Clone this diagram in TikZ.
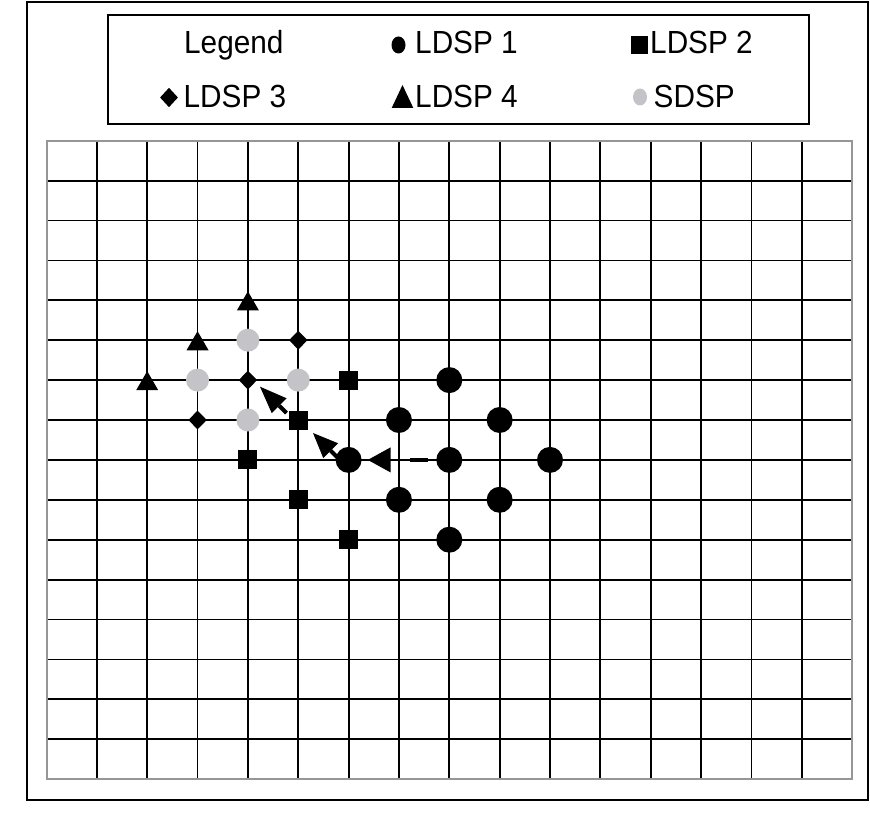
\documentclass[tikz,border=0pt]{standalone}
\usepackage{fontspec}
\usepackage{graphicx}
\setmainfont{Liberation Sans}
\usetikzlibrary{arrows.meta,shapes.geometric}
\definecolor{sdspgray}{RGB}{195,195,200}
\definecolor{gridgray}{RGB}{150,150,150}
\newcommand{\legtext}[1]{\scalebox{0.93}[1]{#1}}
\begin{document}
\begin{tikzpicture}[x=1pt,y=-1pt,
  frame/.style={draw=black,line width=2pt},
  gridline/.style={draw=black,line width=1.8pt},
  ldspone/.style={circle,fill=black,inner sep=0pt,minimum size=26pt},
  ldsptwo/.style={rectangle,fill=black,inner sep=0pt,minimum size=19pt},
  ldspthree/.style={diamond,fill=black,inner sep=0pt,minimum width=18.5pt,minimum height=19pt},
  ldspfour/.style={regular polygon,regular polygon sides=3,fill=black,inner sep=0pt,minimum size=25.4pt,yshift=-3.7pt},
  sdsp/.style={circle,fill=sdspgray,inner sep=0pt,minimum size=23pt},
  lbl/.style={font=\fontsize{32}{34}\selectfont,inner sep=0pt,anchor=base west},
  arrowline/.style={draw=black,line width=4pt}
]
\useasboundingbox (0,0) rectangle (870,824);
% outer frame and legend box
\draw[frame] (27,2) rectangle (868,800);
\node[frame,draw,minimum width=701pt,minimum height=109pt,inner sep=0pt,anchor=north west] (legendbox) at (107,14) {};
% legend content
\node[lbl] (tlegend) at (184,53.3) {\legtext{Legend}};
\node[ellipse,fill=black,inner sep=0pt,minimum width=14pt,minimum height=17pt] (mone) at (398.5,45) {};
\node[lbl] (tone) at (415,53.3) {\legtext{LDSP 1}};
\node[rectangle,fill=black,inner sep=0pt,minimum width=17pt,minimum height=18pt] (mtwo) at (639.5,45) {};
\node[lbl] (ttwo) at (650,53.3) {\legtext{LDSP 2}};
\node[diamond,fill=black,inner sep=0pt,minimum width=18pt,minimum height=19.5pt] (mthree) at (169,97.5) {};
\node[lbl] (tthree) at (183.5,108) {\legtext{LDSP 3}};
\fill[black] (391.7,108) -- (413.3,108) -- (402.5,85) -- cycle;
\node[lbl] (tfour) at (415,108) {\legtext{LDSP 4}};
\node[ellipse,fill=sdspgray,inner sep=0pt,minimum width=14pt,minimum height=17pt] (msdsp) at (640,97) {};
\node[lbl] (tsdsp) at (653.5,108) {\legtext{SDSP}};
% grid
\begin{scope}[xshift=46.5pt,yshift=-140.7pt,x=50.35pt,y=-39.9pt]
  \foreach \i in {1,...,15} {
    \draw[gridline] (\i,0) -- (\i,16);
    \draw[gridline] (0,\i) -- (16,\i);
  }
  \draw[draw=gridgray,line width=2pt] (0,0) rectangle (16,16);
  % LDSP 1
  \foreach \p/\q in {8/6,7/7,9/7,6/8,8/8,10/8,7/9,9/9,8/10}
    \node[ldspone] (c\p\q) at (\p,\q) {};
  % LDSP 2
  \foreach \p/\q in {6/6,5/7,4/8,5/9,6/10}
    \node[ldsptwo] (s\p\q) at (\p,\q) {};
  % LDSP 3
  \foreach \p/\q in {5/5,4/6,3/7}
    \node[ldspthree] (d\p\q) at (\p,\q) {};
  % LDSP 4
  \foreach \p/\q in {4/4,3/5,2/6}
    \node[ldspfour] (t\p\q) at (\p,\q) {};
  % SDSP
  \foreach \p/\q in {4/5,3/6,5/6,4/7}
    \node[sdsp] (g\p\q) at (\p,\q) {};
\end{scope}
% search path arrows
\draw[arrowline,dash pattern=on 18pt off 60pt,shorten <=8pt,shorten >=6pt,
  -{Triangle[length=22.7pt,width=25pt,line width=0pt]}] (c88) -- (c68);
\coordinate (atwotail) at (338,458);
\coordinate (atwotip) at (313,433);
\draw[arrowline,-{Triangle[length=25pt,width=21pt,line width=0pt]}] (atwotail) -- (atwotip);
\coordinate (athreetail) at (286.5,413);
\coordinate (athreetip) at (260,386.7);
\draw[arrowline,-{Triangle[length=27pt,width=21pt,line width=0pt]}] (athreetail) -- (athreetip);
\end{tikzpicture}
\end{document}
